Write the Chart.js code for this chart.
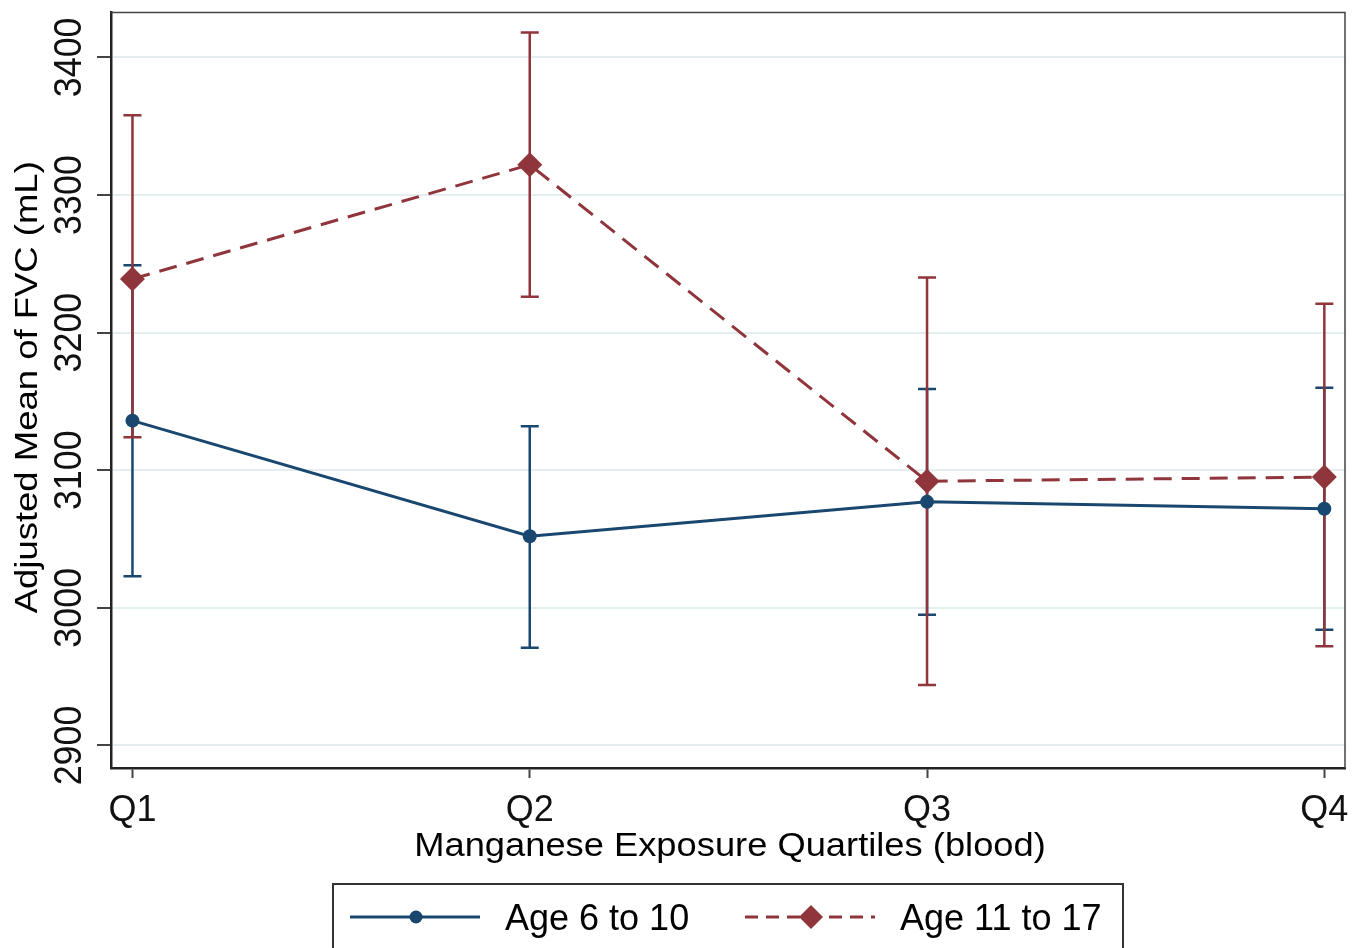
<!DOCTYPE html>
<html><head><meta charset="utf-8">
<style>html,body{margin:0;padding:0;background:#fff;}#wrap{width:1365px;height:948px;}</style>
<script src="https://cdn.jsdelivr.net/npm/chart.js@4.4.1/dist/chart.umd.min.js"></script>
</head><body><div id="wrap"><canvas id="c" width="1365" height="948"></canvas></div>
<script>
const categories = ['Q1', 'Q2', 'Q3', 'Q4'];
const xPositions = [1, 2, 3, 4];
const youngLabel = 'Age 6 to 10';
const youngMean = [3136, 3052, 3077, 3072];
const youngLow  = [3023, 2971, 2995, 2984];
const youngHigh = [3249, 3132, 3159, 3160];
const olderLabel = 'Age 11 to 17';
const olderMean = [3239, 3322, 3092, 3095];
const olderLow  = [3124, 3226, 2944, 2972];
const olderHigh = [3358, 3418, 3240, 3221];
const yTicks = [2900, 3000, 3100, 3200, 3300, 3400];
const xTitle = 'Manganese Exposure Quartiles (blood)';
const yTitle = 'Adjusted Mean of FVC (mL)';

const BLUE = '#1a476f';
const RED = '#90353b';
const FONT = '"Liberation Sans", Arial, sans-serif';

function pts(vals) { return vals.map((v, i) => ({ x: xPositions[i], y: v })); }

function stretchedText(ctx, text, x, y, rot, sx, font, align) {
  ctx.save();
  ctx.translate(x, y);
  ctx.rotate(rot);
  ctx.scale(sx, 1);
  ctx.font = font;
  ctx.textAlign = align || 'center';
  ctx.textBaseline = 'alphabetic';
  ctx.fillText(text, 0, 0);
  ctx.restore();
}

const errorBars = {
  id: 'errorBars',
  beforeDatasetsDraw(chart) {
    const ctx = chart.ctx, xs = chart.scales.x, ys = chart.scales.y;
    chart.data.datasets.forEach((ds) => {
      ctx.save();
      ctx.strokeStyle = ds.borderColor;
      ctx.lineWidth = 2.5;
      ds.data.forEach((p, j) => {
        const x = xs.getPixelForValue(p.x);
        const y1 = ys.getPixelForValue(ds.errLow[j]);
        const y2 = ys.getPixelForValue(ds.errHigh[j]);
        ctx.beginPath();
        ctx.moveTo(x, y1); ctx.lineTo(x, y2);
        ctx.moveTo(x - 9, y1); ctx.lineTo(x + 9, y1);
        ctx.moveTo(x - 9, y2); ctx.lineTo(x + 9, y2);
        ctx.stroke();
      });
      ctx.restore();
    });
  }
};

const frameAndLabels = {
  id: 'frameAndLabels',
  afterDraw(chart) {
    const ctx = chart.ctx, a = chart.chartArea, ys = chart.scales.y, xs = chart.scales.x;
    ctx.save();
    // frame top/right
    ctx.strokeStyle = '#444';
    ctx.lineWidth = 1.5;
    ctx.beginPath();
    ctx.moveTo(a.left, a.top); ctx.lineTo(a.right, a.top); ctx.lineTo(a.right, a.bottom);
    ctx.stroke();
    // rotated y tick labels
    ctx.fillStyle = '#111';
    ys.ticks.forEach(t => {
      const y = ys.getPixelForValue(t.value);
      stretchedText(ctx, String(t.value), a.left - 30, y, -Math.PI / 2, 0.92, '39px ' + FONT);
    });
    // axis titles
    ctx.fillStyle = '#000';
    stretchedText(ctx, yTitle, 37, (a.top + a.bottom) / 2 - 3, -Math.PI / 2, 1.14, '32px ' + FONT);
    stretchedText(ctx, xTitle, (a.left + a.right) / 2 + 2, a.bottom + 88, 0, 1.1, '33px ' + FONT);
    // legend
    const cx = (a.left + a.right) / 2;
    const boxL = cx - 395, boxR = cx + 395, boxT = xs.bottom + 16;
    ctx.strokeStyle = '#333';
    ctx.lineWidth = 2;
    ctx.strokeRect(boxL, boxT, boxR - boxL, 100);
    const ly = boxT + 33;
    chart.data.datasets.forEach((ds, i) => {
      const start = boxL + (i === 0 ? 17 : 412);
      ctx.save();
      ctx.strokeStyle = ds.borderColor;
      ctx.lineWidth = 3;
      ctx.setLineDash(i === 0 ? [] : [13, 8]);
      ctx.beginPath(); ctx.moveTo(start, ly); ctx.lineTo(start + 130, ly); ctx.stroke();
      ctx.setLineDash([]);
      ctx.fillStyle = ds.pointBackgroundColor;
      const mx = start + 66;
      ctx.beginPath();
      if (i === 0) { ctx.arc(mx, ly, 6.5, 0, Math.PI * 2); }
      else { ctx.moveTo(mx - 12, ly); ctx.lineTo(mx, ly - 12); ctx.lineTo(mx + 12, ly); ctx.lineTo(mx, ly + 12); ctx.closePath(); }
      ctx.fill();
      ctx.restore();
      ctx.fillStyle = '#000';
      stretchedText(ctx, ds.label, start + 155, ly + 13, 0, 1.0, '36px ' + FONT, 'left');
    });
    ctx.restore();
  }
};

new Chart(document.getElementById('c'), {
  type: 'line',
  data: {
    datasets: [
      { label: youngLabel, data: pts(youngMean), errLow: youngLow, errHigh: youngHigh,
        borderColor: BLUE, backgroundColor: BLUE, pointBackgroundColor: BLUE, pointBorderColor: BLUE,
        borderWidth: 3, pointStyle: 'circle', pointRadius: 7, pointBorderWidth: 0, tension: 0, order: 2 },
      { label: olderLabel, data: pts(olderMean), errLow: olderLow, errHigh: olderHigh,
        borderColor: RED, backgroundColor: RED, pointBackgroundColor: RED, pointBorderColor: RED,
        borderWidth: 3, borderDash: [18, 10], pointStyle: 'rectRot', pointRadius: 12.5, pointBorderWidth: 0, tension: 0, order: 1 }
    ]
  },
  options: {
    responsive: false,
    animation: false,
    devicePixelRatio: 1,
    layout: { padding: { top: 10, right: 20, bottom: 80, left: 0 } },
    plugins: { legend: { display: false }, tooltip: { enabled: false } },
    scales: {
      x: {
        type: 'linear', min: 0.946, max: 4.052,
        afterBuildTicks: (s) => { s.ticks = xPositions.map(v => ({ value: v })); },
        afterFit: (s) => { s.height = 100; },
        ticks: { callback: (v) => categories[xPositions.indexOf(v)] ?? '', color: '#111',
                 font: { family: FONT, size: 36 }, padding: 11, maxRotation: 0, autoSkip: false },
        grid: { drawOnChartArea: false, drawTicks: true, tickLength: 10, tickColor: '#444', tickWidth: 2 },
        border: { display: true, color: '#222', width: 2.5 },
        title: { display: false }
      },
      y: {
        min: 2883.6, max: 3432.6,
        afterBuildTicks: (s) => { s.ticks = yTicks.map(v => ({ value: v })); },
        afterFit: (s) => { s.width = 111; },
        ticks: { display: false },
        grid: { color: '#e4edf0', lineWidth: 2, drawTicks: true, tickLength: 14, tickColor: '#444', tickWidth: 2 },
        border: { display: true, color: '#222', width: 2.5 },
        title: { display: false }
      }
    }
  },
  plugins: [errorBars, frameAndLabels]
});
</script></body></html>
